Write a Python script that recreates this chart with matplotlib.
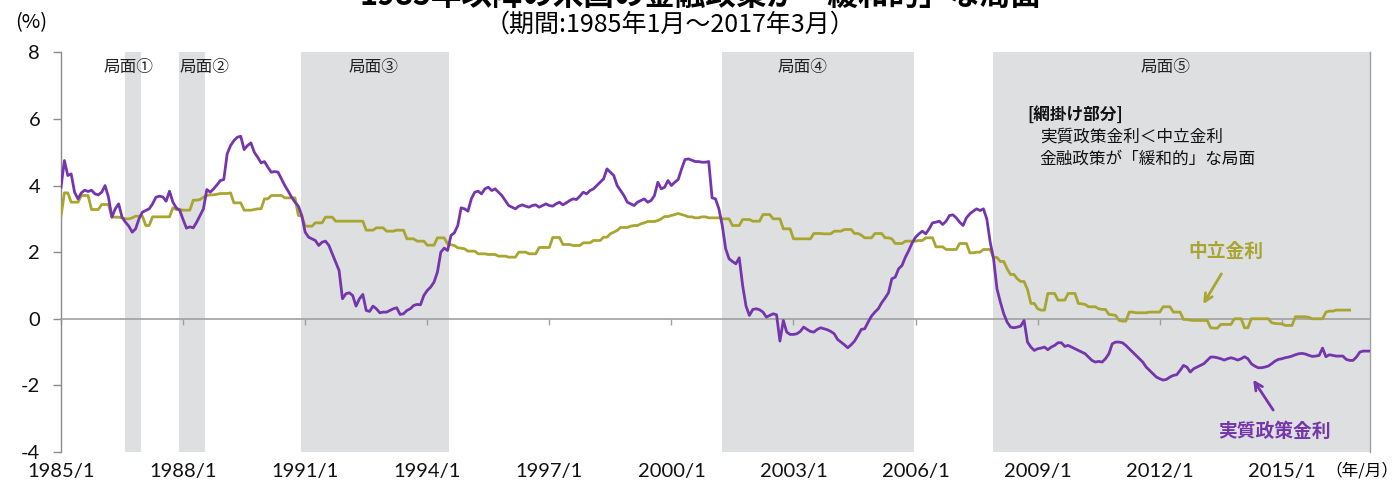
import matplotlib
matplotlib.use("Agg")
import matplotlib.pyplot as plt
import numpy as np

# ---------------- data ----------------
start_year = 1985
# real policy rate (実質政策金利), monthly 1985/1 - 2017/3
real_rate = [
    3.95, 4.75, 4.3, 4.35, 3.8, 3.6, 3.78, 3.86, 3.82, 3.86, 3.75, 3.72,   # 1985
    3.8, 4.0, 3.65, 3.05, 3.3, 3.45, 3.05, 2.9, 2.78, 2.6, 2.7, 3.0,       # 1986
    3.2, 3.25, 3.3, 3.45, 3.65, 3.68, 3.66, 3.53, 3.83, 3.5, 3.33, 3.26,   # 1987
    2.98, 2.72, 2.76, 2.73, 2.9, 3.1, 3.3, 3.88, 3.8, 3.9, 4.02, 4.15,     # 1988
    4.18, 4.95, 5.2, 5.35, 5.45, 5.48, 5.08, 5.2, 5.28, 5.0, 4.85, 4.68,   # 1989
    4.72, 4.55, 4.4, 4.42, 4.4, 4.2, 4.0, 3.83, 3.65, 3.5, 3.38, 3.1,      # 1990
    2.6, 2.45, 2.4, 2.35, 2.2, 2.3, 2.33, 2.2, 1.95, 1.7, 1.45, 0.6,       # 1991
    0.75, 0.78, 0.7, 0.38, 0.6, 0.73, 0.25, 0.22, 0.38, 0.3, 0.18, 0.2,    # 1992
    0.2, 0.25, 0.3, 0.33, 0.13, 0.15, 0.25, 0.3, 0.4, 0.43, 0.42, 0.7,     # 1993
    0.85, 0.95, 1.1, 1.4, 2.0, 2.12, 2.05, 2.5, 2.58, 2.8, 3.33, 3.3,      # 1994
    3.23, 3.6, 3.8, 3.83, 3.75, 3.9, 3.95, 3.85, 3.9, 3.8, 3.7, 3.55,      # 1995
    3.4, 3.35, 3.3, 3.38, 3.42, 3.38, 3.35, 3.4, 3.42, 3.35, 3.4, 3.45,    # 1996
    3.4, 3.38, 3.45, 3.5, 3.42, 3.48, 3.55, 3.6, 3.58, 3.68, 3.8, 3.75,    # 1997
    3.85, 3.9, 4.0, 4.1, 4.2, 4.5, 4.4, 4.3, 4.0, 3.85, 3.7, 3.5,          # 1998
    3.45, 3.4, 3.5, 3.55, 3.6, 3.5, 3.55, 3.7, 4.1, 3.9, 3.95, 4.15,       # 1999
    4.0, 4.1, 4.18, 4.5, 4.78, 4.8, 4.76, 4.72, 4.72, 4.7, 4.7, 4.72,      # 2000
    3.63, 3.6, 3.3, 2.8, 2.1, 1.8, 1.72, 1.65, 1.83, 1.0, 0.38, 0.1,       # 2001
    0.28, 0.3, 0.27, 0.2, 0.05, 0.1, 0.15, 0.12, -0.67, -0.05, -0.4, -0.47,  # 2002
    -0.47, -0.45, -0.38, -0.25, -0.32, -0.38, -0.4, -0.32, -0.27, -0.3, -0.33, -0.38,  # 2003
    -0.45, -0.62, -0.7, -0.78, -0.87, -0.78, -0.67, -0.5, -0.32, -0.3, -0.1, 0.08,     # 2004
    0.2, 0.3, 0.48, 0.62, 0.78, 1.2, 1.25, 1.5, 1.6, 1.85, 2.05, 2.28,     # 2005
    2.45, 2.55, 2.63, 2.55, 2.7, 2.88, 2.9, 2.93, 2.83, 2.93, 3.1, 3.12,   # 2006
    3.03, 2.9, 2.8, 3.03, 3.15, 3.23, 3.3, 3.25, 3.3, 3.0, 2.3, 1.8,       # 2007
    0.9, 0.5, 0.15, -0.1, -0.25, -0.27, -0.25, -0.22, -0.05, -0.7, -0.85, -0.95,       # 2008
    -0.9, -0.88, -0.85, -0.93, -0.85, -0.8, -0.72, -0.72, -0.83, -0.8, -0.85, -0.9,    # 2009
    -0.95, -1.0, -1.05, -1.15, -1.25, -1.3, -1.28, -1.3, -1.2, -1.05, -0.75, -0.7,     # 2010
    -0.7, -0.72, -0.8, -0.9, -1.0, -1.1, -1.2, -1.3, -1.45, -1.55, -1.65, -1.75,       # 2011
    -1.8, -1.84, -1.82, -1.75, -1.7, -1.68, -1.55, -1.4, -1.45, -1.6, -1.5, -1.45,     # 2012
    -1.4, -1.35, -1.25, -1.15, -1.15, -1.17, -1.2, -1.24, -1.2, -1.17, -1.2, -1.24,    # 2013
    -1.2, -1.14, -1.2, -1.35, -1.42, -1.47, -1.47, -1.45, -1.42, -1.35, -1.27, -1.22,  # 2014
    -1.2, -1.17, -1.15, -1.12, -1.08, -1.05, -1.04, -1.06, -1.1, -1.13, -1.12, -1.1,   # 2015
    -0.88, -1.14, -1.08, -1.1, -1.12, -1.12, -1.12, -1.22, -1.25, -1.25, -1.15, -1.0,  # 2016
    -0.97, -0.97, -0.97,                                                   # 2017
]

# neutral rate (中立金利), monthly 1985/1 - 2016/9
neutral_rate = [
    3.08, 3.78, 3.78, 3.5, 3.5, 3.5, 3.7, 3.7, 3.7, 3.28, 3.28, 3.28,      # 1985
    3.43, 3.43, 3.43, 3.06, 3.05, 3.05, 3.03, 3.0, 3.0, 3.03, 3.08, 3.08,  # 1986
    3.08, 2.8, 2.8, 3.06, 3.06, 3.06, 3.06, 3.06, 3.06, 3.33, 3.28, 3.28,  # 1987
    3.26, 3.26, 3.26, 3.56, 3.56, 3.58, 3.65, 3.7, 3.72, 3.72, 3.74, 3.76, # 1988
    3.76, 3.76, 3.78, 3.48, 3.48, 3.48, 3.26, 3.26, 3.26, 3.28, 3.3, 3.3,  # 1989
    3.6, 3.6, 3.7, 3.7, 3.7, 3.7, 3.63, 3.63, 3.63, 3.63, 3.1, 3.08,       # 1990
    2.78, 2.78, 2.78, 2.88, 2.88, 2.88, 3.05, 3.05, 3.05, 2.93, 2.93, 2.93,  # 1991
    2.93, 2.93, 2.93, 2.93, 2.93, 2.93, 2.66, 2.66, 2.66, 2.73, 2.73, 2.73,  # 1992
    2.63, 2.63, 2.63, 2.66, 2.66, 2.66, 2.4, 2.4, 2.4, 2.33, 2.33, 2.33,     # 1993
    2.21, 2.21, 2.21, 2.43, 2.43, 2.43, 2.25, 2.22, 2.2, 2.13, 2.12, 2.1,    # 1994
    2.03, 2.03, 2.03, 1.95, 1.95, 1.95, 1.93, 1.93, 1.93, 1.88, 1.88, 1.88,  # 1995
    1.85, 1.85, 1.85, 2.0, 2.0, 2.0, 1.95, 1.95, 1.95, 2.14, 2.14, 2.14,     # 1996
    2.14, 2.44, 2.44, 2.44, 2.23, 2.23, 2.23, 2.2, 2.2, 2.2, 2.28, 2.28,     # 1997
    2.28, 2.35, 2.35, 2.35, 2.45, 2.45, 2.55, 2.6, 2.65, 2.74, 2.74, 2.74,   # 1998
    2.78, 2.8, 2.8, 2.85, 2.88, 2.92, 2.92, 2.92, 2.95, 3.0, 3.07, 3.07,     # 1999
    3.1, 3.13, 3.16, 3.13, 3.1, 3.06, 3.06, 3.03, 3.03, 3.06, 3.06, 3.03,    # 2000
    3.03, 3.03, 3.03, 3.0, 3.0, 3.0, 2.8, 2.8, 2.8, 2.98, 2.98, 2.98,        # 2001
    2.93, 2.93, 2.93, 3.13, 3.13, 3.13, 3.0, 3.0, 3.0, 2.7, 2.7, 2.7,        # 2002
    2.4, 2.4, 2.4, 2.4, 2.4, 2.4, 2.56, 2.56, 2.56, 2.55, 2.55, 2.55,        # 2003
    2.63, 2.63, 2.63, 2.68, 2.68, 2.68, 2.56, 2.56, 2.51, 2.43, 2.43, 2.43,  # 2004
    2.56, 2.56, 2.56, 2.43, 2.43, 2.4, 2.26, 2.26, 2.26, 2.33, 2.33, 2.33,   # 2005
    2.33, 2.35, 2.35, 2.43, 2.43, 2.43, 2.16, 2.16, 2.16, 2.08, 2.08, 2.08,  # 2006
    2.08, 2.26, 2.26, 2.26, 1.98, 1.98, 2.0, 2.0, 2.08, 2.08, 2.08, 1.84,    # 2007
    1.84, 1.72, 1.72, 1.5, 1.33, 1.33, 1.2, 1.12, 1.12, 0.88, 0.46, 0.46,    # 2008
    0.3, 0.26, 0.26, 0.76, 0.76, 0.76, 0.56, 0.56, 0.56, 0.76, 0.76, 0.76,   # 2009
    0.46, 0.45, 0.43, 0.36, 0.36, 0.36, 0.3, 0.28, 0.28, 0.13, 0.12, 0.1,    # 2010
    -0.05, -0.07, -0.07, 0.2, 0.2, 0.18, 0.18, 0.18, 0.18, 0.2, 0.2, 0.2,    # 2011
    0.2, 0.36, 0.36, 0.36, 0.2, 0.2, 0.2, -0.02, -0.02, -0.04, -0.05, -0.05,  # 2012
    -0.05, -0.05, -0.05, -0.27, -0.28, -0.28, -0.17, -0.17, -0.17, -0.17, 0.0, 0.0,  # 2013
    0.0, -0.27, -0.27, 0.0, 0.0, 0.0, 0.0, 0.0, 0.0, -0.12, -0.14, -0.15,    # 2014
    -0.15, -0.2, -0.2, -0.2, 0.06, 0.06, 0.06, 0.06, 0.04, 0.0, 0.0, 0.0,    # 2015
    0.0, 0.2, 0.23, 0.23, 0.26, 0.26, 0.26, 0.26, 0.26,                      # 2016
]

tick_labels = ["1985/1", "1988/1", "1991/1", "1994/1", "1997/1", "2000/1",
               "2003/1", "2006/1", "2009/1", "2012/1", "2015/1"]
y_ticks = [-4, -2, 0, 2, 4, 6, 8]

phase_names = ["局面①", "局面②", "局面③", "局面④", "局面⑤"]
phase_start = ["1986/8", "1987/12", "1990/12", "2001/4", "2007/12"]
phase_end = ["1986/12", "1988/7", "1994/7", "2005/12", "2017/3"]

title_line1 = "1985年以降の米国の金融政策が「緩和的」な局面"
title_line2 = "（期間:1985年1月～2017年3月）"


def month_index(s):
    y, m = s.split("/")
    return (int(y) - start_year) * 12 + int(m) - 1


# ---------------- style ----------------
PURPLE = "#7535AC"
OLIVE = "#A8A530"
SHADE = "#DEDFE1"
AXGRAY = "#8C8C8C"
JP = ["Noto Sans CJK JP", "DejaVu Sans"]
NUM = ["Lato", "Noto Sans CJK JP", "DejaVu Sans"]
plt.rcParams["font.family"] = NUM

fig = plt.figure(figsize=(13.99, 4.88), dpi=100)
ax = fig.add_axes([61 / 1399, 36 / 488, 1309 / 1399, 399.7 / 488])

x_real = np.arange(len(real_rate))
x_neu = np.arange(len(neutral_rate))
last = month_index("2017/3")

# shaded phases
label_x = [19.8, 42.2, 92.0, 218.7, 325.8]
for name, s, e, lx in zip(phase_names, phase_start, phase_end, label_x):
    s_i, e_i = month_index(s), month_index(e)
    ax.axvspan(s_i - 0.1, min(e_i + 0.5, last), color=SHADE, lw=0, zorder=0.5)
    ax.text(lx, 7.55, name, ha="center", va="center", fontsize=12,
            family=JP, color="#222222")

ax.plot(x_neu, neutral_rate, color=OLIVE, lw=2.0, zorder=3, solid_joinstyle="round")
ax.plot(x_real, real_rate, color=PURPLE, lw=2.0, zorder=4, solid_joinstyle="round")

ax.set_xlim(0, last)
ax.set_ylim(-4, 8)

# axes styling
ax.spines["top"].set_visible(False)
ax.spines["right"].set_color("#A0A0A0")
ax.spines["right"].set_linewidth(1.0)
ax.spines["left"].set_color(AXGRAY)
ax.spines["left"].set_linewidth(1.0)
ax.spines["bottom"].set_position(("data", 0))
ax.spines["bottom"].set_color("#A0A0A0")
ax.spines["bottom"].set_linewidth(1.2)
ax.spines["bottom"].set_zorder(2.5)

ax.set_xticks([month_index(t) for t in tick_labels])
ax.set_xticklabels(tick_labels, fontsize=14.5, color="#111111")
ax.tick_params(axis="x", direction="out", length=4.5, width=1, color="#A0A0A0", pad=99)

ax.set_yticks(y_ticks)
ax.set_yticklabels([str(v) for v in y_ticks], fontsize=14.5, color="#111111")
ax.tick_params(axis="y", direction="out", length=6, width=1, color=AXGRAY, pad=9)

# explanation block
ax.text(285.1, 6.13, "[網掛け部分]", ha="left", va="center", fontsize=12,
        family=JP, fontweight="bold", color="#111111")
ax.text(288.6, 5.47, "実質政策金利＜中立金利", ha="left", va="center",
        fontsize=12, family=JP, color="#111111")
ax.text(288.6, 4.78, "金融政策が「緩和的」な局面", ha="left", va="center",
        fontsize=12, family=JP, color="#111111")

# series labels with arrows
ax.text(343.4, 2.02, "中立金利", ha="center", va="center", fontsize=13.5,
        family=JP, fontweight="bold", color=OLIVE)
ax.annotate("", xy=(336.4, 0.37), xytext=(342.6, 1.42),
            arrowprops=dict(arrowstyle="->", color=OLIVE, lw=2, mutation_scale=14))
ax.text(357.9, -3.38, "実質政策金利", ha="center", va="center", fontsize=13.5,
        family=JP, fontweight="bold", color=PURPLE)
ax.annotate("", xy=(351.1, -1.76), xytext=(357.9, -2.81),
            arrowprops=dict(arrowstyle="->", color=PURPLE, lw=2, mutation_scale=14))

# figure texts
fig.text(700 / 1399, 1 - 5 / 488, title_line1, ha="center", va="baseline",
         fontsize=22, fontweight="bold", family=JP)
fig.text(670 / 1399, 1 - 25 / 488, title_line2, ha="center", va="center",
         fontsize=18, family=JP)
fig.text(31 / 1399, 1 - 23 / 488, "(%)", ha="center", va="center",
         fontsize=14.5, family=JP)
fig.text(1362 / 1399, 1 - 471 / 488, "（年/月）", ha="center", va="center",
         fontsize=12, family=JP)

fig.savefig("out.png", dpi=100)
